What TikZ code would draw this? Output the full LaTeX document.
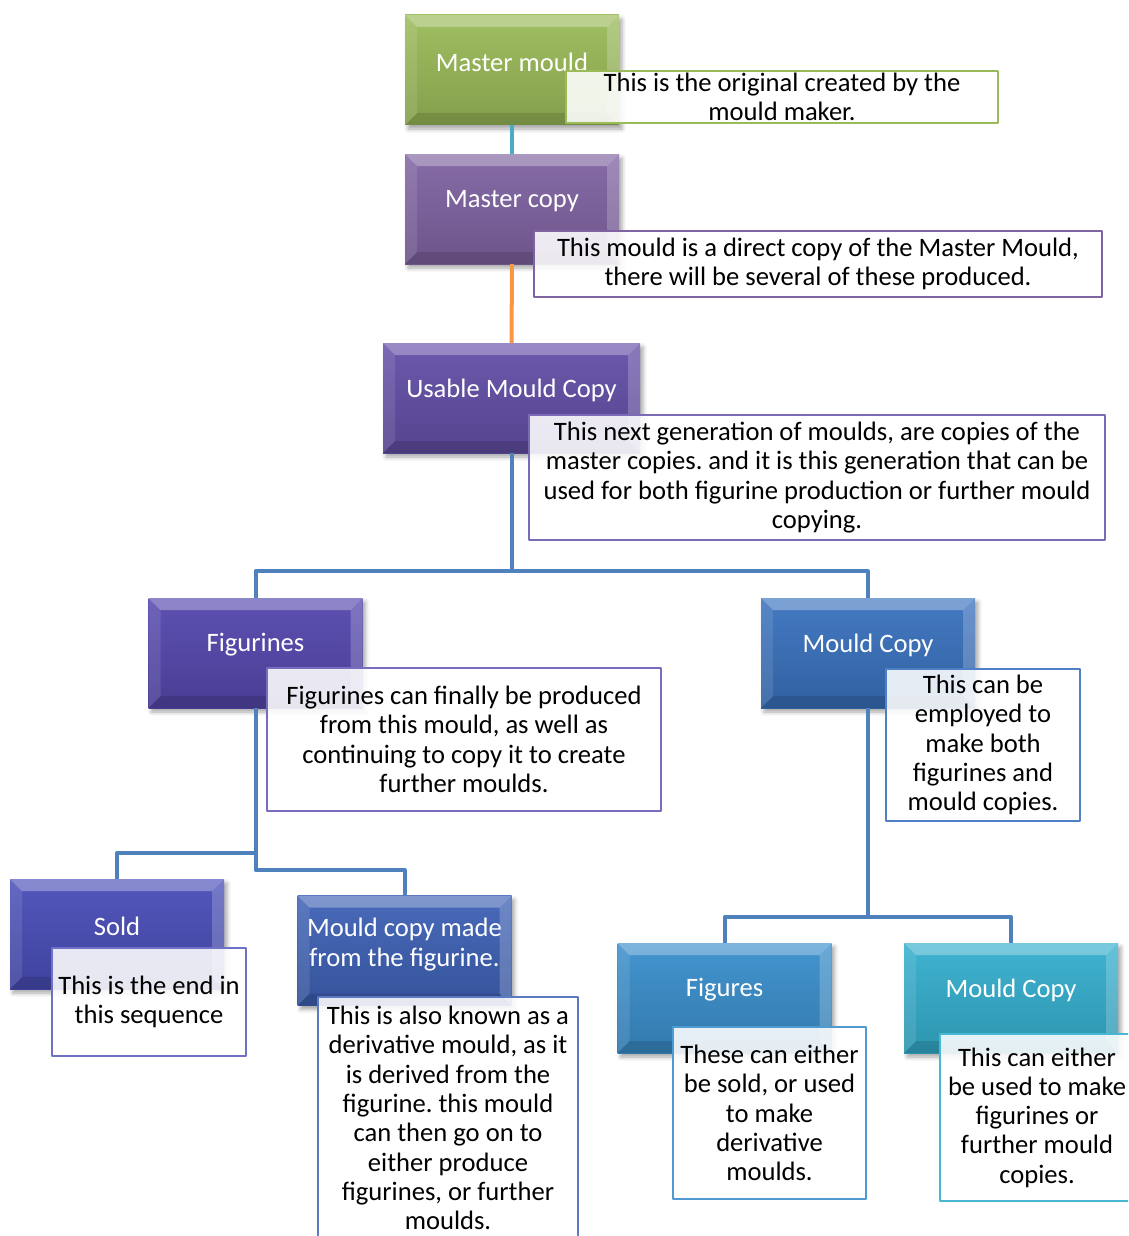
\documentclass[tikz,border=0pt]{standalone}
\usepackage{fontspec}
\setmainfont{Carlito}
\usetikzlibrary{shadows.blur}

\definecolor{cgreen}{HTML}{9BBB59}
\definecolor{cpurple}{HTML}{8064A2}
\definecolor{cusable}{HTML}{6450A8}
\definecolor{cfig}{HTML}{5548AE}
\definecolor{csold}{HTML}{4A4EB8}
\definecolor{cmcf}{HTML}{3F62B6}
\definecolor{cmcp}{HTML}{3A72BE}
\definecolor{cfigs}{HTML}{3A8FCC}
\definecolor{cmcb}{HTML}{35AFCE}
\definecolor{cteal}{HTML}{4BACC6}
\definecolor{corange}{HTML}{F79646}
\definecolor{cblue}{HTML}{4F81BD}

\frenchspacing
\begin{document}
\begin{tikzpicture}[x=1pt, y=-1pt, line join=round,
    every node/.style={font=\fontsize{26.6}{29.3}\selectfont},
    mbox/.style={minimum width=214pt, minimum height=110pt, inner sep=0pt,
      top color=#1!95!white, bottom color=#1!85!black,
      blur shadow={shadow xshift=3pt, shadow yshift=-4pt, shadow blur radius=4pt, shadow opacity=35},
      path picture={
        \fill[white, opacity=.3] (path picture bounding box.north west) -- (path picture bounding box.north east)
          -- ([xshift=-12pt, yshift=-12pt]path picture bounding box.north east) -- ([xshift=12pt, yshift=-12pt]path picture bounding box.north west) -- cycle;
        \fill[white, opacity=.1] (path picture bounding box.north west) -- ([xshift=12pt, yshift=-12pt]path picture bounding box.north west)
          -- ([xshift=12pt, yshift=12pt]path picture bounding box.south west) -- (path picture bounding box.south west) -- cycle;
        \fill[white, opacity=.2] (path picture bounding box.north east) -- ([xshift=-12pt, yshift=-12pt]path picture bounding box.north east)
          -- ([xshift=-12pt, yshift=12pt]path picture bounding box.south east) -- (path picture bounding box.south east) -- cycle;
        \fill[black, opacity=.12] (path picture bounding box.south west) -- (path picture bounding box.south east)
          -- ([xshift=-12pt, yshift=12pt]path picture bounding box.south east) -- ([xshift=12pt, yshift=12pt]path picture bounding box.south west) -- cycle;
      }},
    boxtxt/.style={text=white, align=center, inner sep=0pt},
    note/.style={draw=#1, line width=2pt, fill=white, fill opacity=0.88, text opacity=1, align=center, inner sep=0pt},
    link/.style={line width=4pt, draw=#1}]

    % --- 1. 描画範囲 ---
    \useasboundingbox (0,0) rectangle (1128,1236);
    \clip (0,0) rectangle (1128,1236);

    % --- 2. 色付きの箱 ---
    \node[mbox=cgreen]  (mm)   at (512,70)    {};
    \node[mbox=cpurple] (mc)   at (512,209)   {};
    \node[mbox=cusable, minimum width=257pt] (um) at (511.5,398) {};
    \node[mbox=cfig]    (fig)  at (255.5,653) {};
    \node[mbox=cmcp]    (mcp)  at (868,653)   {};
    \node[mbox=csold]   (sold) at (117,934)   {};
    \node[mbox=cmcf]    (mcf)  at (404.5,950.5) {};
    \node[mbox=cfigs]   (figs) at (724.5,998) {};
    \node[mbox=cmcb]    (mcb)  at (1011,998)  {};

    % 箱の見出し (中央より少し上)
    \node[boxtxt] (mmt)   at ([yshift=8pt]mm.center)   {Master mould};
    \node[boxtxt] (mct)   at ([yshift=8pt]mc.center)   {Master copy};
    \node[boxtxt] (umt)   at ([yshift=8pt]um.center)   {Usable Mould Copy};
    \node[boxtxt] (figt)  at ([yshift=8pt]fig.center)  {Figurines};
    \node[boxtxt] (mcpt)  at ([yshift=8pt]mcp.center)  {Mould Copy};
    \node[boxtxt] (soldt) at ([yshift=8pt]sold.center) {Sold};
    \node[boxtxt] (mcft)  at ([yshift=6pt]mcf.center)  {Mould copy made\\from the figurine.};
    \node[boxtxt] (figst) at ([yshift=8pt]figs.center) {Figures};
    \node[boxtxt] (mcbt)  at ([yshift=8pt]mcb.center)  {Mould Copy};

    % --- 3. 接続線 ---
    \coordinate (bus1) at (0,571);
    \coordinate (bus2) at (0,853);
    \coordinate (bus3) at (0,870);
    \coordinate (bus4) at (0,917);

    \draw[link=cteal]   (mm.south) -- (mc.north);
    \draw[link=corange] (mc.south) -- (um.north);
    \draw[link=cblue] (um.south) -- (um.south |- bus1) -| (fig.north);
    \draw[link=cblue] (um.south |- bus1) -| (mcp.north);
    \draw[link=cblue] (fig.south) -- (fig.south |- bus2) -| (sold.north);
    \draw[link=cblue] (fig.south |- bus2) -- (fig.south |- bus3) -| (mcf.north);
    \draw[link=cblue] (mcp.south) -- (mcp.south |- bus4) -| (figs.north);
    \draw[link=cblue] (mcp.south |- bus4) -| (mcb.north);

    % --- 4. 説明の箱 ---
    \node[note=cgreen, minimum width=432pt, minimum height=52pt] (n1) at (782,97)
      {This is the original created by the\\mould maker.};
    \node[note=cpurple, minimum width=568pt, minimum height=66pt] (n2) at (818,264)
      {This mould is a direct copy of the Master Mould,\\there will be several of these produced.};
    \node[note=cusable!85!white, minimum width=576pt, minimum height=125pt] (n3) at (817,477.5)
      {This next generation of moulds, are copies of the\\master copies. and it is this generation that can be\\used for both figurine production or further mould\\copying.};
    \node[note=cfig!80!white, minimum width=394pt, minimum height=143pt] (n4) at (464,739.5)
      {Figurines can finally be produced\\from this mould, as well as\\continuing to copy it to create\\further moulds.};
    \node[note=cmcp!90!white, minimum width=194pt, minimum height=152pt] (n5) at (983,745)
      {This can be\\employed to\\make both\\figurines and\\mould copies.};
    \node[note=csold!80!white, minimum width=194pt, minimum height=108pt] (n6) at (149,1002)
      {This is the end in\\this sequence};
    \node[note=cmcf!85!white, minimum width=260pt, minimum height=242pt] (n7) at (448,1118)
      {This is also known as a\\derivative mould, as it\\is derived from the\\figurine. this mould\\can then go on to\\either produce\\figurines, or further\\moulds.};
    \node[note=cfigs!90!white, minimum width=193pt, minimum height=172pt] (n8) at (769.5,1113)
      {These can either\\be sold, or used\\to make\\derivative\\moulds.};
    \node[note=cmcb!90!white, minimum width=194pt, minimum height=167pt] (n9) at (1037,1117.5)
      {This can either\\be used to make\\figurines or\\further mould\\copies.};

\end{tikzpicture}
\end{document}
